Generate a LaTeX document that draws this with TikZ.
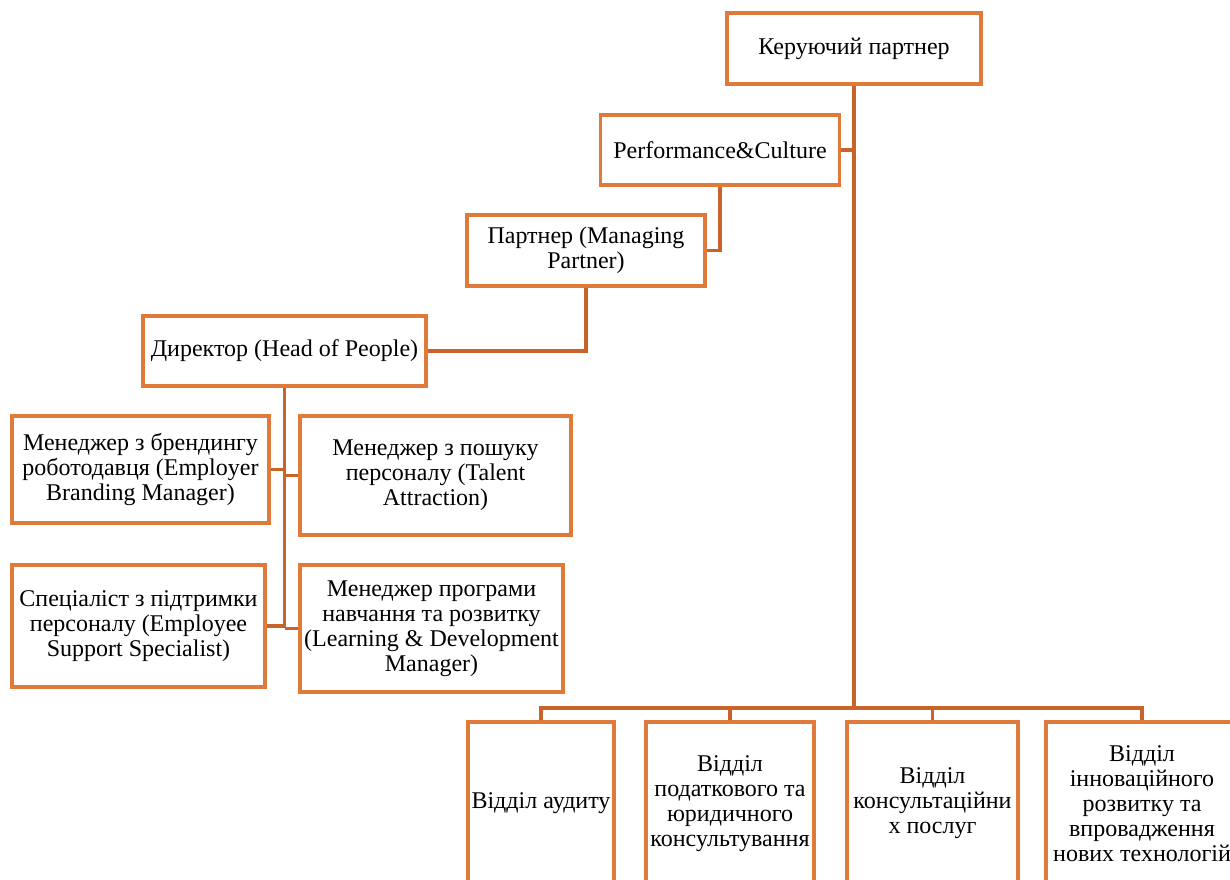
\documentclass[tikz,border=0pt]{standalone}
\usepackage{fontspec}
\setmainfont{Liberation Serif}
\definecolor{boxc}{RGB}{224,122,58}
\definecolor{linec}{RGB}{200,100,42}
\tikzset{
  orgbox/.style={draw=boxc, line width=3.2pt, fill=white, align=center, inner sep=1pt,
    font=\fontsize{24}{25}\selectfont},
  conn/.style={draw=linec, line width=3.2pt}
}
\begin{document}
\begin{tikzpicture}[x=1pt,y=-1pt]
\useasboundingbox (0,0) rectangle (1230,879);
% nodes
\node[orgbox, minimum width=254pt, minimum height=71pt] (kp) at (854,48.5) {Керуючий партнер};
\node[orgbox, minimum width=239pt, minimum height=70pt] (pc) at (720,150) {Performance\&Culture};
\node[orgbox, minimum width=238pt, minimum height=71pt] (pm) at (586,250.5) {Партнер (Managing\\Partner)};
\node[orgbox, minimum width=283pt, minimum height=70pt] (dir) at (284.5,351) {Директор (Head of People)};
\node[orgbox, minimum width=257pt, minimum height=107pt] (ebm) at (140.5,469.5) {Менеджер з брендингу\\роботодавця (Employer\\Branding Manager)};
\node[orgbox, minimum width=271pt, minimum height=119pt] (ta) at (435.5,475.5) {Менеджер з пошуку\\персоналу (Talent\\Attraction)};
\node[orgbox, minimum width=253pt, minimum height=122pt] (ess) at (138.5,626) {Спеціаліст з підтримки\\персоналу (Employee\\Support Specialist)};
\node[orgbox, minimum width=263pt, minimum height=127pt] (ld) at (431.5,628.5) {Менеджер програми\\навчання та розвитку\\(Learning \& Development\\Manager)};
\node[orgbox, minimum width=146pt, minimum height=163pt] (d1) at (541,803.5) {Відділ аудиту};
\node[orgbox, minimum width=168pt, minimum height=163pt] (d2) at (730,803.5) {Відділ\\податкового та\\юридичного\\консультування};
\node[orgbox, minimum width=171pt, minimum height=163pt] (d3) at (932.5,803.5) {Відділ\\консультаційни\\х послуг};
\node[orgbox, minimum width=192pt, minimum height=163pt] (d4) at (1142,803.5) {Відділ\\інноваційного\\розвитку та\\впровадження\\нових технологій};
% helper coordinates
\coordinate (bus) at (854,708);
\coordinate (hr) at (284.5,628);
% connectors
\draw[conn] (kp.south) -- (bus);
\draw[conn] (pc.east) -- (pc.east -| kp.south);
\draw[conn] (pc.south) |- (pm.east);
\draw[conn] (pm.south) |- (dir.east);
\draw[conn] (dir.south) -- (hr);
\draw[conn] (ebm.east) -- (ebm.east -| hr);
\draw[conn] (ta.west) -- (ta.west -| hr);
\draw[conn] (ess.east) -- (ess.east -| hr);
\draw[conn] (ld.west) -- (ld.west -| hr);
\draw[conn] (d1.north) |- (bus) -| (d4.north);
\draw[conn] (d2.north) -- (d2.north |- bus);
\draw[conn] (d3.north) -- (d3.north |- bus);
\end{tikzpicture}
\end{document}
